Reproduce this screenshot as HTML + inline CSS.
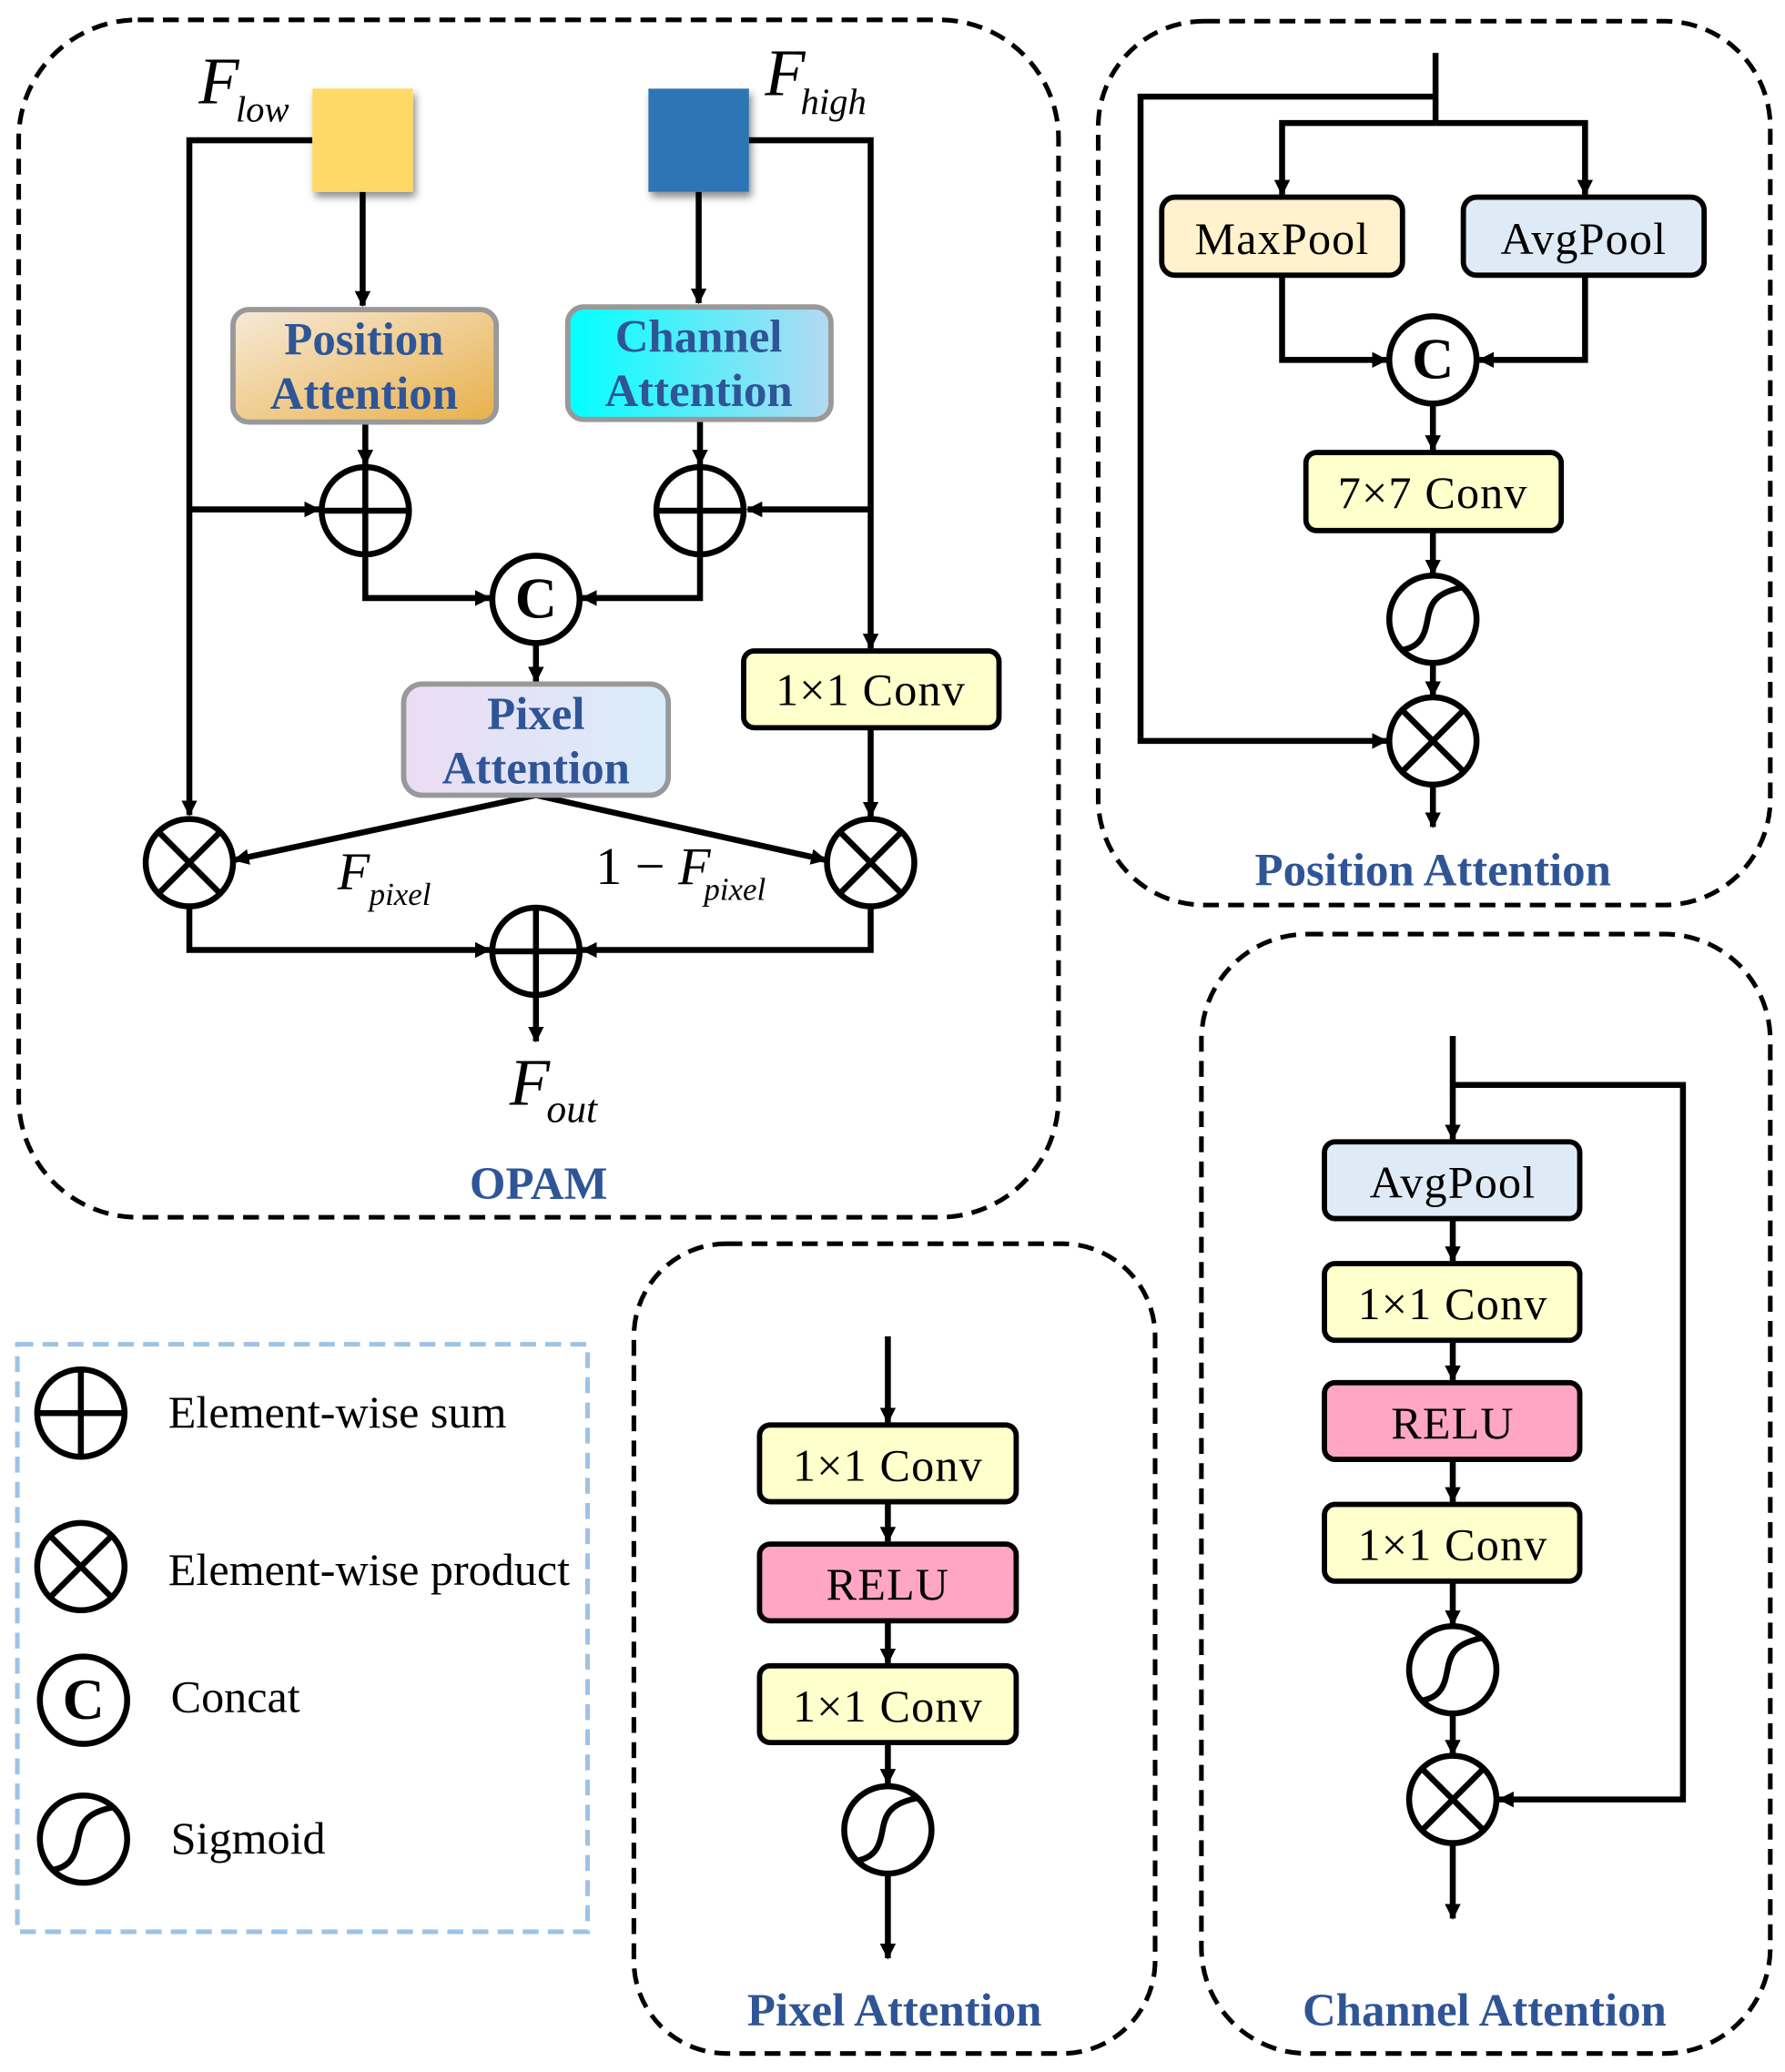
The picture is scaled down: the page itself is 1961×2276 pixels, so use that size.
<!DOCTYPE html>
<html><head><meta charset="utf-8"><style>
html,body{margin:0;padding:0;background:#fff}
svg{display:block}
.t{font-family:"Liberation Serif",serif}
.b{font-size:35px;font-weight:bold;fill:#2f5597}
.r{font-size:34.5px;letter-spacing:0.8px}
.l{font-size:34.5px}
</style></head><body>
<svg width="1961" height="2276" viewBox="0 0 1349 1566" xmlns="http://www.w3.org/2000/svg">
<defs>
<marker id="a" viewBox="0 0 12 12" refX="11" refY="6" markerWidth="12" markerHeight="12" markerUnits="userSpaceOnUse" orient="auto"><path d="M0,0 L12,6 L0,12 Z" fill="#000"/></marker>
<linearGradient id="gp" x1="0" y1="0" x2="1" y2="1"><stop offset="0" stop-color="#f7ead8"/><stop offset="1" stop-color="#e8b04a"/></linearGradient>
<linearGradient id="gc" x1="0" y1="0" x2="1" y2="0"><stop offset="0" stop-color="#00ffff"/><stop offset="1" stop-color="#b4d9f2"/></linearGradient>
<linearGradient id="gx" x1="0" y1="0" x2="1" y2="0"><stop offset="0" stop-color="#ebdcf4"/><stop offset="1" stop-color="#d9ecf9"/></linearGradient>
<filter id="sh" x="-20%" y="-20%" width="150%" height="150%"><feDropShadow dx="2" dy="4" stdDeviation="3" flood-color="#000" flood-opacity="0.45"/></filter>
<g id="plus"><circle r="33" fill="#fff" stroke="#000" stroke-width="4.5"/><path d="M-33,0H33M0,-33V33" stroke="#000" stroke-width="4.5"/></g>
<g id="times"><circle r="33" fill="#fff" stroke="#000" stroke-width="4.5"/><path d="M-23,-23L23,23M23,-23L-23,23" stroke="#000" stroke-width="4.5"/></g>
<g id="cat"><circle r="33" fill="#fff" stroke="#000" stroke-width="4.5"/><text x="0" y="14" text-anchor="middle" class="t" font-size="44" font-weight="bold">C</text></g>
<g id="sig"><circle r="33" fill="#fff" stroke="#000" stroke-width="4.5"/><path d="M-22,23 C-8,20 -6,10 -4,0 C-2,-12 2,-20 22,-24" fill="none" stroke="#000" stroke-width="4.5"/></g>
</defs>
<g fill="none" stroke="#000" stroke-width="3.5" stroke-dasharray="12,7">
<rect x="14" y="15" width="786" height="905" rx="90"/>
<rect x="830" y="16" width="508" height="668" rx="80"/>
<rect x="908" y="706" width="430" height="846" rx="80"/>
<rect x="479" y="940" width="394" height="612" rx="70"/>
</g>
<rect x="13" y="1016" width="431" height="444" fill="none" stroke="#9dc3e6" stroke-width="3.5" stroke-dasharray="12,7"/>

<g fill="none" stroke="#000" stroke-width="4.5">
<path d="M236,106H143V616" marker-end="url(#a)"/>
<path d="M143,385H241" marker-end="url(#a)"/>
<path d="M274,145V231" marker-end="url(#a)"/>
<path d="M276,319V351" marker-end="url(#a)"/>
<path d="M528,145V229" marker-end="url(#a)"/>
<path d="M529,317V351" marker-end="url(#a)"/>
<path d="M566,106H658V490" marker-end="url(#a)"/>
<path d="M658,385H565" marker-end="url(#a)"/>
<path d="M276,419V452H370" marker-end="url(#a)"/>
<path d="M529,419V452H440" marker-end="url(#a)"/>
<path d="M405,486V515" marker-end="url(#a)"/>
<path d="M658,550V617" marker-end="url(#a)"/>
<path d="M405,601L177,650" marker-end="url(#a)"/>
<path d="M405,601L624,650" marker-end="url(#a)"/>
<path d="M143,685V718H370" marker-end="url(#a)"/>
<path d="M658,685V718H440" marker-end="url(#a)"/>
<path d="M405,752V787" marker-end="url(#a)"/>
<path d="M1085,40V93"/>
<path d="M1085,73H862V560H1048" marker-end="url(#a)"/>
<path d="M1085,93H969V147" marker-end="url(#a)"/>
<path d="M1085,93H1198V147" marker-end="url(#a)"/>
<path d="M969,208V272H1048" marker-end="url(#a)"/>
<path d="M1198,208V272H1118" marker-end="url(#a)"/>
<path d="M1083,306V340" marker-end="url(#a)"/>
<path d="M1083,401V434" marker-end="url(#a)"/>
<path d="M1083,502V526" marker-end="url(#a)"/>
<path d="M1083,594V625" marker-end="url(#a)"/>
<path d="M1098,783V861" marker-end="url(#a)"/>
<path d="M1098,820H1272V1360H1133" marker-end="url(#a)"/>
<path d="M1098,921V953" marker-end="url(#a)"/>
<path d="M1098,1013V1043" marker-end="url(#a)"/>
<path d="M1098,1103V1135" marker-end="url(#a)"/>
<path d="M1098,1195V1228" marker-end="url(#a)"/>
<path d="M1098,1296V1326" marker-end="url(#a)"/>
<path d="M1098,1394V1450" marker-end="url(#a)"/>
<path d="M671,1010V1075" marker-end="url(#a)"/>
<path d="M671,1135V1165" marker-end="url(#a)"/>
<path d="M671,1225V1257" marker-end="url(#a)"/>
<path d="M671,1317V1348" marker-end="url(#a)"/>
<path d="M671,1417V1480" marker-end="url(#a)"/>
</g>

<rect x="236" y="67" width="76" height="78" fill="#ffd966" filter="url(#sh)"/>
<rect x="490" y="67" width="76" height="78" fill="#2e75b6" filter="url(#sh)"/>
<text x="150" y="78" class="t" font-size="50" font-style="italic">F</text>
<text x="178" y="92" class="t" font-size="28" font-style="italic">low</text>
<text x="578" y="72" class="t" font-size="50" font-style="italic">F</text>
<text x="605" y="86" class="t" font-size="28" font-style="italic">high</text>

<rect x="176" y="234" width="199" height="85" rx="12" fill="url(#gp)" stroke="#999" stroke-width="4"/>
<text x="275" y="268" text-anchor="middle" class="t b">Position</text>
<text x="275" y="309" text-anchor="middle" class="t b">Attention</text>
<rect x="429" y="232" width="199" height="85" rx="12" fill="url(#gc)" stroke="#999" stroke-width="4"/>
<text x="528" y="266" text-anchor="middle" class="t b">Channel</text>
<text x="528" y="307" text-anchor="middle" class="t b">Attention</text>
<rect x="305" y="517" width="200" height="84" rx="14" fill="url(#gx)" stroke="#999" stroke-width="4"/>
<text x="405" y="551" text-anchor="middle" class="t b">Pixel</text>
<text x="405" y="592" text-anchor="middle" class="t b">Attention</text>
<rect x="562" y="492" width="193" height="58" rx="8" fill="#ffffcc" stroke="#000" stroke-width="4"/>
<text x="658" y="533" text-anchor="middle" class="t r">1×1 Conv</text>

<use href="#plus" x="276" y="386"/>
<use href="#plus" x="529" y="386"/>
<use href="#cat" x="405" y="453"/>
<use href="#times" x="143" y="652"/>
<use href="#times" x="658" y="652"/>
<use href="#plus" x="405" y="719"/>
<text x="255" y="672" class="t" font-size="40" font-style="italic">F</text>
<text x="279" y="684" class="t" font-size="24" font-style="italic">pixel</text>
<text x="450" y="668" class="t" font-size="40">1 − <tspan font-style="italic">F</tspan></text>
<text x="532" y="680" class="t" font-size="24" font-style="italic">pixel</text>
<text x="385" y="835" class="t" font-size="50" font-style="italic">F</text>
<text x="413" y="848" class="t" font-size="30" font-style="italic">out</text>
<text x="407" y="906" text-anchor="middle" class="t b">OPAM</text>

<rect x="878" y="149" width="182" height="59" rx="10" fill="#fff2cc" stroke="#000" stroke-width="4"/>
<text x="969" y="192" text-anchor="middle" class="t r">MaxPool</text>
<rect x="1106" y="149" width="182" height="59" rx="10" fill="#deebf7" stroke="#000" stroke-width="4"/>
<text x="1197" y="192" text-anchor="middle" class="t r">AvgPool</text>
<use href="#cat" x="1083" y="272"/>
<rect x="987" y="342" width="193" height="59" rx="8" fill="#ffffcc" stroke="#000" stroke-width="4"/>
<text x="1083" y="384" text-anchor="middle" class="t r">7×7 Conv</text>
<use href="#sig" x="1083" y="468"/>
<use href="#times" x="1083" y="560"/>
<text x="1083" y="669" text-anchor="middle" class="t b">Position Attention</text>

<rect x="1001" y="863" width="193" height="58" rx="8" fill="#deebf7" stroke="#000" stroke-width="4"/>
<text x="1098" y="905" text-anchor="middle" class="t r">AvgPool</text>
<rect x="1001" y="955" width="193" height="58" rx="8" fill="#ffffcc" stroke="#000" stroke-width="4"/>
<text x="1098" y="997" text-anchor="middle" class="t r">1×1 Conv</text>
<rect x="1001" y="1045" width="193" height="58" rx="8" fill="#ffa6c4" stroke="#000" stroke-width="4"/>
<text x="1098" y="1087" text-anchor="middle" class="t r">RELU</text>
<rect x="1001" y="1137" width="193" height="58" rx="8" fill="#ffffcc" stroke="#000" stroke-width="4"/>
<text x="1098" y="1179" text-anchor="middle" class="t r">1×1 Conv</text>
<use href="#sig" x="1098" y="1262"/>
<use href="#times" x="1098" y="1360"/>
<text x="1122" y="1531" text-anchor="middle" class="t b">Channel Attention</text>

<rect x="574" y="1077" width="194" height="58" rx="8" fill="#ffffcc" stroke="#000" stroke-width="4"/>
<text x="671" y="1119" text-anchor="middle" class="t r">1×1 Conv</text>
<rect x="574" y="1167" width="194" height="58" rx="8" fill="#ffa6c4" stroke="#000" stroke-width="4"/>
<text x="671" y="1209" text-anchor="middle" class="t r">RELU</text>
<rect x="574" y="1259" width="194" height="58" rx="8" fill="#ffffcc" stroke="#000" stroke-width="4"/>
<text x="671" y="1301" text-anchor="middle" class="t r">1×1 Conv</text>
<use href="#sig" x="671" y="1383"/>
<text x="676" y="1531" text-anchor="middle" class="t b">Pixel Attention</text>

<use href="#plus" x="61" y="1068"/>
<text x="127" y="1079" class="t l">Element-wise sum</text>
<use href="#times" x="61" y="1184"/>
<text x="127" y="1198" class="t l">Element-wise product</text>
<use href="#cat" x="63" y="1285"/>
<text x="129" y="1294" class="t l">Concat</text>
<use href="#sig" x="63" y="1390"/>
<text x="129" y="1401" class="t l">Sigmoid</text>
</svg>
</body></html>
